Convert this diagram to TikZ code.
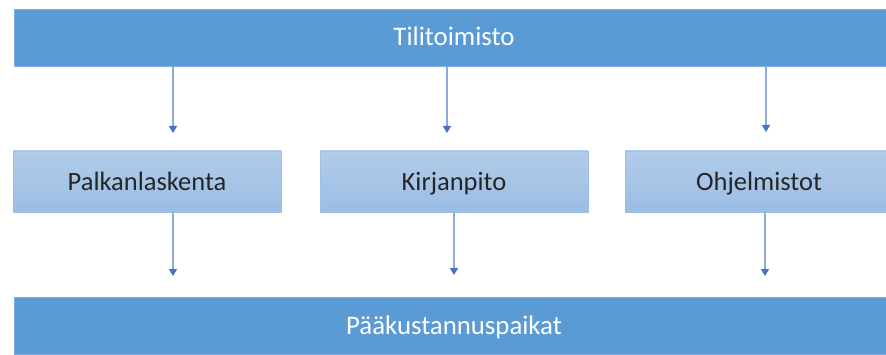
\documentclass[tikz,border=0pt]{standalone}
\usepackage{fontspec}
\setmainfont{Carlito}
\usetikzlibrary{arrows.meta}
\definecolor{barblue}{HTML}{5B9BD5}
\definecolor{baredge}{HTML}{7FB0DE}
\definecolor{boxtop}{HTML}{B2CCEA}
\definecolor{boxbot}{HTML}{9BBDE3}
\definecolor{boxedge}{HTML}{9EC0E6}
\definecolor{linecol}{HTML}{8FAADC}
\definecolor{headcol}{HTML}{4472C4}
\definecolor{txt}{HTML}{262626}
\tikzset{
  bar/.style={fill=barblue, draw=baredge, line width=0.8pt, minimum width=880pt, minimum height=57pt, inner sep=0pt, text=white, font=\fontsize{26.8}{30}\selectfont, text height=17pt, text depth=0pt},
  midbox/.style={top color=boxtop, bottom color=boxbot, draw=boxedge, line width=0.8pt, minimum width=268pt, minimum height=61pt, inner sep=0pt, text=txt, font=\fontsize{26.5}{30}\selectfont, text height=17pt, text depth=0pt},
  arr/.style={draw=linecol, line width=1.4pt, -{Triangle[width=8pt,length=7pt,color=headcol,fill=headcol]}}
}
\begin{document}
\begin{tikzpicture}[x=1pt,y=1pt]
\useasboundingbox (0,0) rectangle (886,354);
\fill[white] (0,0) rectangle (886,354);
\node[bar] (top) at (454,316.5) {Tilitoimisto};
\node[bar] (bot) at (454,28.5) {Pääkustannuspaikat};
\node[midbox] (b1) at (147,172.5) {Palkanlaskenta};
\node[midbox] (b2) at (454,172.5) {Kirjanpito};
\node[midbox] (b3) at (759,172.5) {Ohjelmistot};
\coordinate (t1) at (173,221);
\coordinate (t2) at (447,221);
\coordinate (t3) at (766,222);
\coordinate (u1) at (173,78);
\coordinate (u2) at (454,79);
\coordinate (u3) at (765,78);
\draw[arr] (top.south -| t1) -- (t1);
\draw[arr] (top.south -| t2) -- (t2);
\draw[arr] (top.south -| t3) -- (t3);
\draw[arr] (b1.south -| u1) -- (u1);
\draw[arr] (b2.south -| u2) -- (u2);
\draw[arr] (b3.south -| u3) -- (u3);
\end{tikzpicture}
\end{document}
